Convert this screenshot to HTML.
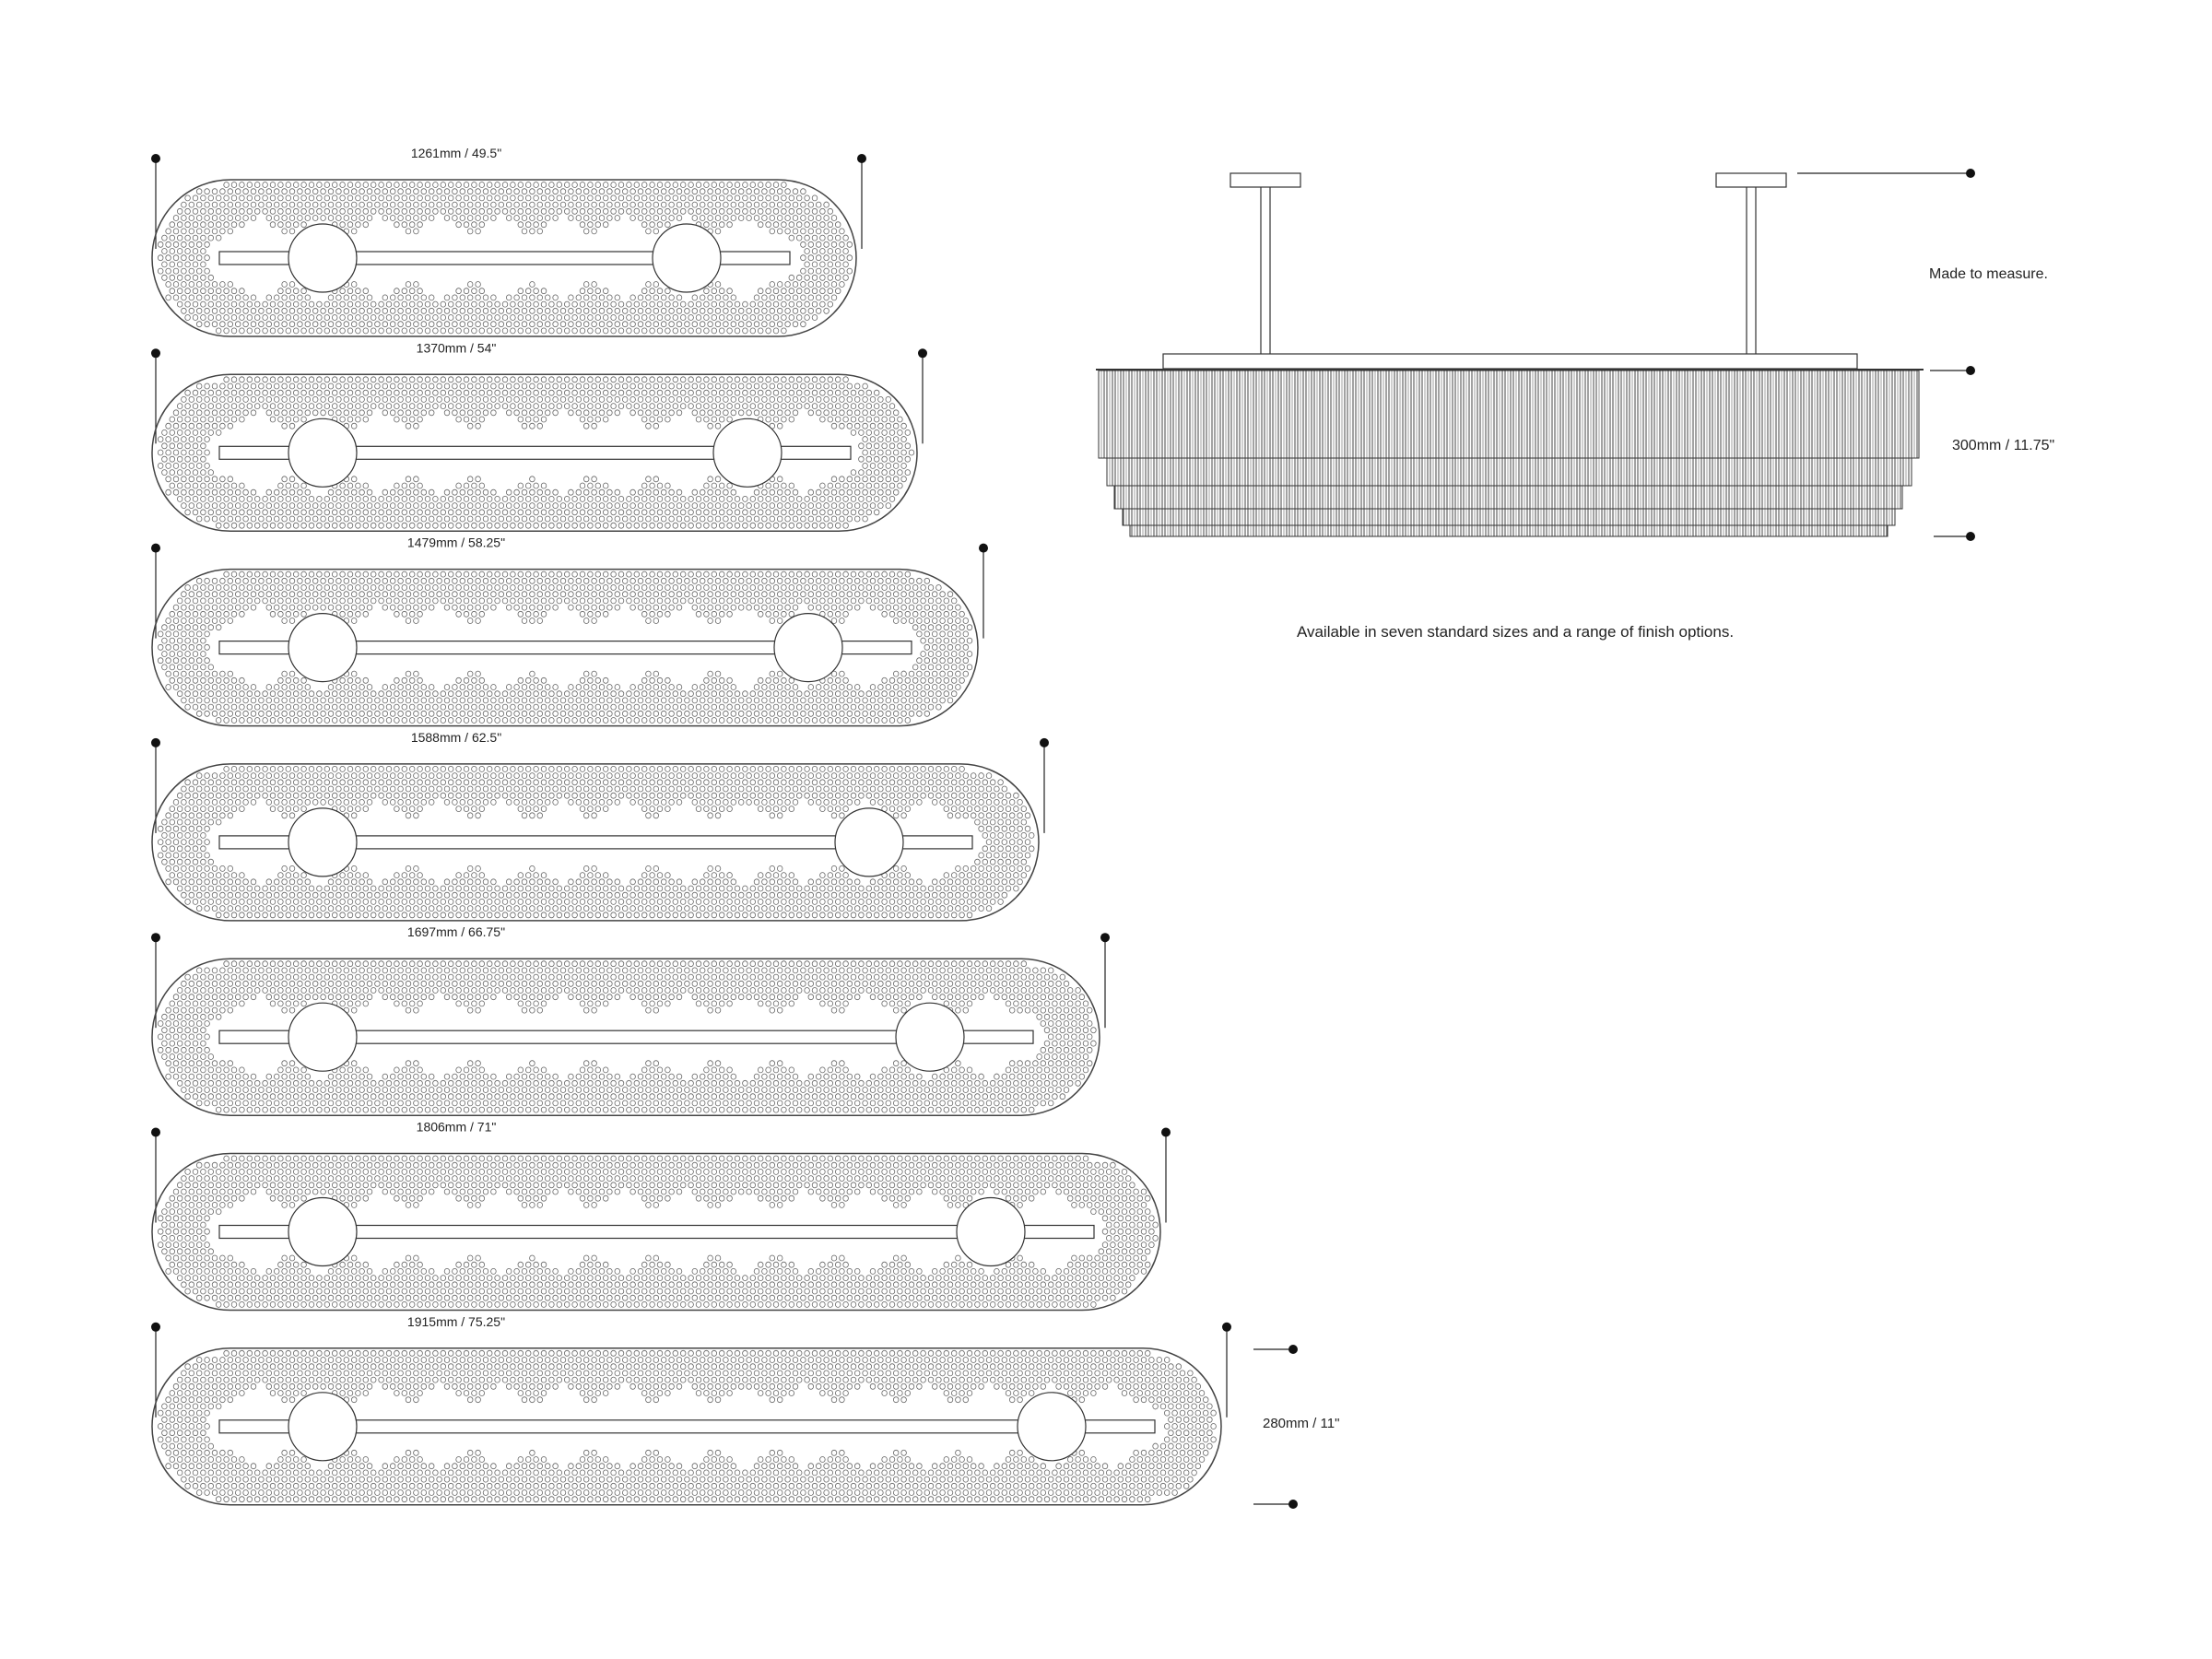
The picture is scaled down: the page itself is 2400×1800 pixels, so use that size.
<!DOCTYPE html>
<html><head><meta charset="utf-8">
<style>
html,body{margin:0;padding:0;background:#fff;}
body{width:2400px;height:1800px;overflow:hidden;position:relative;font-family:"Liberation Sans",sans-serif;}
svg{position:absolute;left:0;top:0;}
text{font-family:"Liberation Sans",sans-serif;font-size:14px;fill:#222;}
</style></head>
<body>
<svg id="s" width="2400" height="1800" viewBox="0 0 2400 1800" xmlns="http://www.w3.org/2000/svg">
<defs>
<pattern id="fr" width="9" height="200" patternUnits="userSpaceOnUse">
<line x1="1" y1="0" x2="1" y2="200" stroke="#444" stroke-width="1"/>
<line x1="4" y1="0" x2="4" y2="200" stroke="#444" stroke-width="1"/>
<line x1="7" y1="0" x2="7" y2="200" stroke="#888" stroke-width="0.8"/>
</pattern>
</defs>
<g id="rows"></g>
<!-- elevation -->
<g stroke="#333" stroke-width="1.2" fill="none">
<rect x="1335" y="188" width="76" height="15"/>
<rect x="1862" y="188" width="76" height="15"/>
<line x1="1368" y1="203" x2="1368" y2="384"/><line x1="1378" y1="203" x2="1378" y2="384"/>
<line x1="1895" y1="203" x2="1895" y2="384"/><line x1="1905" y1="203" x2="1905" y2="384"/>
<rect x="1262" y="384" width="753" height="16"/>
<line x1="1189" y1="401" x2="2087" y2="401" stroke-width="2"/>
</g>
<rect x="1192" y="402" width="890" height="95" fill="url(#fr)" stroke="#333"/>
<rect x="1201" y="497" width="873" height="30" fill="url(#fr)" stroke="#333"/>
<rect x="1209" y="527" width="855" height="25" fill="url(#fr)" stroke="#333"/>
<rect x="1218" y="552" width="838" height="18" fill="url(#fr)" stroke="#333"/>
<rect x="1226" y="570" width="822" height="12" fill="url(#fr)" stroke="#333"/>
<g stroke="#222" stroke-width="1.2">
<line x1="1950" y1="188" x2="2138" y2="188"/>
<line x1="2094" y1="402" x2="2138" y2="402"/>
<line x1="2098" y1="582" x2="2138" y2="582"/>
<line x1="1360" y1="1464" x2="1402" y2="1464"/>
<line x1="1360" y1="1632" x2="1402" y2="1632"/>
</g>
<g fill="#111">
<circle cx="2138" cy="188" r="5"/><circle cx="2138" cy="402" r="5"/><circle cx="2138" cy="582" r="5"/>
<circle cx="1403" cy="1464" r="5"/><circle cx="1403" cy="1632" r="5"/>
</g>
<text x="2093" y="302" style="font-size:16px">Made to measure.</text>
<text x="2118" y="488" style="font-size:16px">300mm / 11.75"</text>
<text x="1644" y="691" text-anchor="middle" style="font-size:17px">Available in seven standard sizes and a range of finish options.</text>
<text x="1370" y="1549" style="font-size:15px">280mm / 11"</text>
</svg>
<script>
(function(){
var g=document.getElementById("rows");
var labels=['1261mm / 49.5"','1370mm / 54"','1479mm / 58.25"','1588mm / 62.5"','1697mm / 66.75"','1806mm / 71"','1915mm / 75.25"'];
var out="";
for(var i=0;i<7;i++){
 var top=195+i*211.3, H=170, R=85, L=165, Rt=929+66*i, cy=top+R;
 var dotY=top-23;
 out+='<line x1="169" y1="'+dotY+'" x2="169" y2="'+(cy-10)+'" stroke="#222" stroke-width="1.2"/>';
 out+='<line x1="'+(Rt+6)+'" y1="'+dotY+'" x2="'+(Rt+6)+'" y2="'+(cy-10)+'" stroke="#222" stroke-width="1.2"/>';
 out+='<circle cx="169" cy="'+dotY+'" r="5" fill="#111"/><circle cx="'+(Rt+6)+'" cy="'+dotY+'" r="5" fill="#111"/>';
 out+='<text x="495" y="'+(top-24)+'" text-anchor="middle">'+labels[i]+'</text>';
 out+='<rect x="'+L+'" y="'+top+'" width="'+(Rt-L)+'" height="'+H+'" rx="'+R+'" ry="'+R+'" fill="none" stroke="#444" stroke-width="1.5"/>';
 var d="";
 var sx=8.4, sy=7.2, cx0=L+R, cx1=Rt-R;
 var r=0;
 for(var y=top+5.5;y<top+H-4;y+=sy,r++){
  var off=(r%2)?sx/2:0;
  for(var x=L+5+off;x<Rt-4;x+=sx){
   var px=Math.max(cx0,Math.min(cx1,x));
   var dist=Math.sqrt((x-px)*(x-px)+(y-cy)*(y-cy));
   var de=R-dist;
   if(de<5) continue;
   var w=50+9*Math.sin(2*Math.PI*(x-L)/66);
   if(x<cx0||x>cx1) w=60;
   if(de<w){d+='M'+(x+2.8).toFixed(1)+' '+y.toFixed(1)+'a2.8 3 0 1 0 -5.6 0a2.8 3 0 1 0 5.6 0';}
  }
 }
 out+='<path d="'+d+'" fill="none" stroke="#666" stroke-width="0.8"/>';
 var bx1=Rt-72;
 out+='<rect x="238" y="'+(cy-7)+'" width="'+(bx1-238)+'" height="14" fill="#fff" stroke="#333" stroke-width="1.2"/>';
 out+='<circle cx="350" cy="'+cy+'" r="37" fill="#fff" stroke="#333" stroke-width="1.2"/>';
 out+='<circle cx="'+(Rt-184)+'" cy="'+cy+'" r="37" fill="#fff" stroke="#333" stroke-width="1.2"/>';
}
g.innerHTML=out;
})();
</script>
</body></html>
